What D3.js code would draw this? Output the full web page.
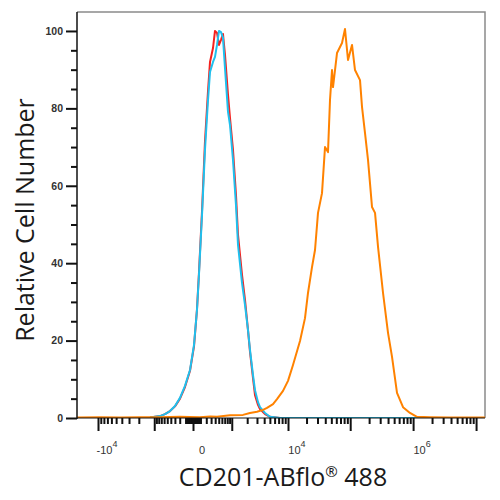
<!DOCTYPE html>
<html>
<head>
<meta charset="utf-8">
<script src="https://cdn.jsdelivr.net/npm/d3@7"></script>
<style>
  body { margin: 0; background: #fff; }
  svg { display: block; }
</style>
</head>
<body>
<svg id="chart" width="500" height="500"></svg>
<script>
// histogram channels (fluorescence units) and % of max
const controlX = [-1220, -964, -749, -571, -422, -298, -195, -109, -37, 12, 50, 78, 125, 176, 234, 276,
  345, 395, 450, 508, 571, 638, 711, 831, 918, 1061, 1221, 1339, 1600, 1822, 2071, 2252, 2550, 2768,
  3126, 3387, 4130, 5024, 7382, 13860000]
const isotypeY = [0.1, 0.3, 0.5, 1.0, 1.8, 3.0, 5.0, 8.0, 12.2, 18.5, 28, 37.5, 53.5, 71.5, 84.5, 92,
  95.6, 100, 99.5, 96.4, 97.7, 99.2, 93.8, 83.5, 77.5, 69.3, 57.6, 47.3, 37, 30.5, 22.7, 17.1, 10.3,
  5.9, 3.4, 2.3, 1.0, 0.3, 0, 0]
const blankY = [0.1, 0.3, 0.5, 1.0, 1.8, 3.1, 5.2, 8.3, 12.4, 18.9, 27.9, 37, 52.5, 69.3, 82.2, 89.4,
  92.0, 93.3, 96.4, 100, 99.7, 98.2, 90.4, 79.1, 75.7, 66.7, 55.0, 44.7, 34.9, 29.2, 22.7, 17.6, 11.1,
  7.2, 4.1, 2.8, 1.3, 0.3, 0, 0]
const stainedX = [-21900, -9300, -4300, -1900, -750, -200, 90, 280, 450, 920, 1670, 2250, 3000, 3820,
  4470, 5650, 6580, 8280, 10000, 12070, 15680, 18890, 21120, 24500, 27380, 30590, 35450, 39610, 44230,
  47620, 51260, 53190, 61580, 74020, 82630, 92260, 106850, 119260, 143230, 154140, 172100, 192060,
  222400, 248300, 277150, 332800, 399550, 462500, 555200, 691500, 891800, 1153000, 1854000, 3850000,
  8000000, 13860000]
const stainedY = [0.1, 0.2, 0.1, 0.2, 0.2, 0.3, 0.2, 0.4, 0.3, 0.7, 0.8, 1.3, 1.6, 2.1, 2.6, 3.6, 4.9,
  7.0, 9.6, 13.7, 19.9, 25.8, 32.3, 39.0, 43.4, 53.0, 58.1, 70.0, 68.7, 82.2, 89.9, 85.5, 94.3, 96.9,
  100.5, 92.5, 96.4, 89.9, 87.3, 80.4, 73.6, 66.7, 54.5, 53.0, 44.2, 32.3, 22.0, 15.8, 6.5, 2.8, 1.3,
  0.3, 0.2, 0.1, 0.1, 0.1]

const yMajor = [0, 20, 40, 60, 80, 100]
const xMajor = [-1e4, -1e3, 0, 1e3, 1e4, 1e5, 1e6, 1e7]
const xLabels = [
  { v: -1e4, base: '-10', exp: '4' },
  { v: 0, base: '0', exp: '' },
  { v: 1e4, base: '10', exp: '4' },
  { v: 1e6, base: '10', exp: '6' },
]

const series = [
  { x: controlX, y: isotypeY, color: '#f5211d' },
  { x: controlX, y: blankY, color: '#1fc0ee' },
  { x: stainedX, y: stainedY, color: '#ff8200' },
]

const marginLeft = 77
const plotRight = 485
const marginTop = 12
const plotBottom = 418

const svg = d3.select('#chart')

const x = d3.scaleSymlog().constant(320).domain([-21920, 13860000]).range([marginLeft, plotRight])
const y = d3.scaleLinear().domain([0, 104.9]).range([plotBottom, marginTop])

// minor ticks per decade
const xMinor = []
for (let k = 1; k <= 6; k++) {
  for (let m = 2; m <= 9; m++) {
    xMinor.push(m * 10 ** k)
    if (k <= 3) xMinor.push(-m * 10 ** k)
  }
}
xMinor.push(10, -10, 100, -100)
const yMinor = d3.range(0, 105, 5).filter((d) => d % 20 !== 0)

svg.append('defs').append('clipPath').attr('id', 'clip')
  .append('rect').attr('x', marginLeft).attr('y', marginTop - 2)
  .attr('width', plotRight - marginLeft).attr('height', plotBottom - marginTop + 2)

// frame
svg.append('path')
  .attr('d', `M${marginLeft},${marginTop}H${plotRight}V${plotBottom}`)
  .attr('fill', 'none').attr('stroke', '#8a8a8a').attr('stroke-width', 1.5)

const plot = svg.append('g').attr('clip-path', 'url(#clip)')
for (const s of series) {
  const pts = s.x.map((v, i) => [v, s.y[i]])
  plot.append('path')
    .datum(pts)
    .attr('fill', 'none')
    .attr('stroke', s.color)
    .attr('stroke-width', 2)
    .attr('stroke-linejoin', 'round')
    .attr('d', d3.line().x((d) => x(d[0])).y((d) => y(d[1])))
}

// y axis
const styleAxis = (g) => {
  g.select('.domain').remove()
  g.selectAll('.tick line').attr('stroke', '#111').attr('stroke-width', 2)
}
svg.append('g').attr('transform', `translate(${marginLeft},0)`)
  .call(d3.axisLeft(y).tickValues(yMinor).tickSize(6).tickFormat(''))
  .call(styleAxis)
svg.append('g').attr('transform', `translate(${marginLeft},0)`)
  .call(d3.axisLeft(y).tickValues(yMajor).tickSize(11).tickPadding(3))
  .call(styleAxis)
  .call((g) => g.selectAll('text')
    .attr('fill', '#333').attr('font-size', 10.5).attr('font-weight', 'bold')
    .attr('font-family', 'Liberation Sans, Arial, sans-serif'))
svg.append('line')
  .attr('x1', marginLeft).attr('x2', marginLeft).attr('y1', marginTop).attr('y2', plotBottom + 1)
  .attr('stroke', '#111').attr('stroke-width', 1.5)

// x axis
svg.append('g').attr('transform', `translate(0,${plotBottom})`)
  .call(d3.axisBottom(x).tickValues(xMinor).tickSize(6).tickFormat(''))
  .call(styleAxis)
svg.append('g').attr('transform', `translate(0,${plotBottom})`)
  .call(d3.axisBottom(x).tickValues(xMajor).tickSize(13).tickFormat(''))
  .call(styleAxis)
svg.append('line')
  .attr('x1', marginLeft).attr('x2', plotRight).attr('y1', plotBottom).attr('y2', plotBottom)
  .attr('stroke', '#111').attr('stroke-width', 1)

const xl = svg.append('g')
  .attr('font-family', 'Liberation Sans, Arial, sans-serif')
  .attr('fill', '#333')
  .selectAll('text').data(xLabels).join('text')
  .attr('x', (d) => x(d.v) + 9)
  .attr('y', 454)
  .attr('text-anchor', 'middle')
  .attr('font-size', 11)
xl.append('tspan').text((d) => d.base)
xl.append('tspan').attr('font-size', 9).attr('dy', -7).text((d) => d.exp)

// axis titles
svg.append('text')
  .attr('transform', 'translate(34,220) rotate(-90)')
  .attr('text-anchor', 'middle')
  .attr('font-family', 'Open Sans, sans-serif')
  .attr('font-size', 25)
  .attr('fill', '#1a1a1a')
  .text('Relative Cell Number')

const xt = svg.append('text')
  .attr('x', 283).attr('y', 486)
  .attr('text-anchor', 'middle')
  .attr('font-family', 'Open Sans, sans-serif')
  .attr('font-size', 25)
  .attr('fill', '#1a1a1a')
xt.append('tspan').text('CD201-ABflo')
xt.append('tspan').attr('font-size', 15).attr('dy', -9).text('®')
xt.append('tspan').attr('dy', 9).text(' 488')
</script>
</body>
</html>
